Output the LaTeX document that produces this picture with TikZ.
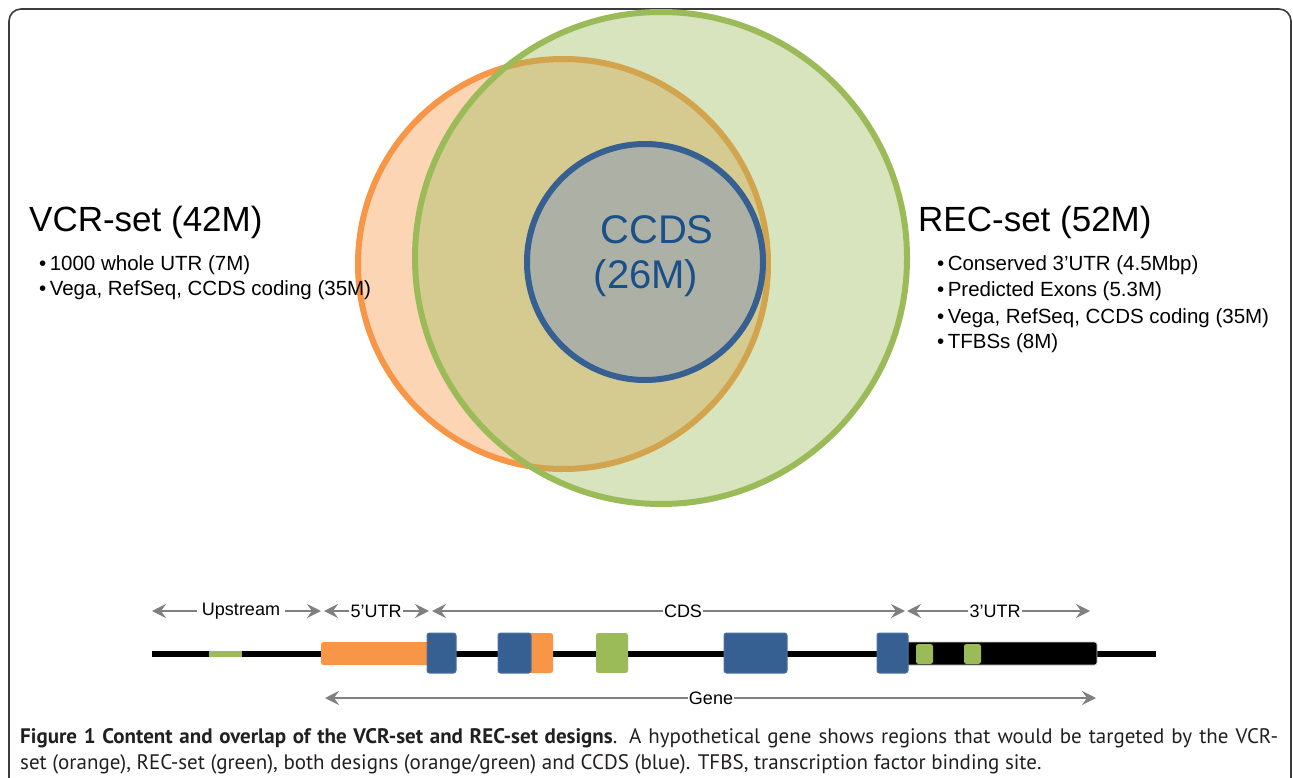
\documentclass[tikz,border=0pt]{standalone}
\usepackage{fontspec}
\setmainfont{Liberation Sans}
\newfontfamily\capfont{PT Sans}
\usetikzlibrary{arrows.meta}
\definecolor{vorange}{RGB}{247,150,70}
\definecolor{vpeach}{RGB}{252,213,181}
\definecolor{vgreen}{RGB}{155,187,89}
\definecolor{vblue}{RGB}{55,96,146}
\definecolor{vblueedge}{RGB}{75,112,158}
\definecolor{vgrey}{RGB}{173,176,165}
\definecolor{ccdstext}{RGB}{26,80,138}
\definecolor{arrowgrey}{RGB}{128,128,128}
\definecolor{framegrey}{RGB}{60,60,60}
\definecolor{captext}{RGB}{35,31,32}
\tikzset{
  setlabel/.style={font=\fontsize{35}{42}\selectfont, anchor=west, inner sep=0pt},
  bulletitem/.style={font=\fontsize{20.5}{24}\selectfont, anchor=west, inner sep=0pt},
  ccdslabel/.style={font=\fontsize{40}{48}\selectfont, text=ccdstext, inner sep=0pt},
  tracklabel/.style={font=\fontsize{18}{21}\selectfont, inner sep=3pt},
  garrow/.style={arrowgrey, line width=2pt, -{Stealth[length=14pt, width=14pt, inset=5pt]}},
  exonblue/.style={fill=vblue, draw=vblueedge, line width=1pt, rounded corners=2.5pt},
  exonorange/.style={fill=vorange, rounded corners=2.5pt},
  exongreen/.style={fill=vgreen, rounded corners=2.5pt},
  captionline/.style={font=\capfont\fontsize{21}{25}\selectfont, text=captext, anchor=base west, inner sep=0pt}
}
\begin{document}
\begin{tikzpicture}[x=1pt,y=-1pt]
\useasboundingbox (0,0) rectangle (1293,778);
\clip (0,0) rectangle (1293,778);
% frame
\draw[framegrey, line width=1.6pt, rounded corners=12pt] (9,820) -- (9,9) -- (1291,9) -- (1291,820);

% Venn diagram
\draw[vorange, fill=vpeach, line width=6pt] (563,264) circle (205);
\fill[vgreen, fill opacity=0.4] (661,258) circle (246);
\draw[vgreen, line width=6pt] (661,258) circle (246);
\draw[vblue, fill=vgrey, line width=6pt] (645,262) circle (118);

\node[ccdslabel] (ccds) at (657,230) {CCDS};
\node[ccdslabel] (ccdsM) at (646,278) {(26M)};

% left text
\node[setlabel] (vcr) at (29,222) {VCR-set (42M)};
\node[bulletitem] (vcr1) at (39,265) {\textbullet\,1000 whole UTR (7M)};
\node[bulletitem] (vcr2) at (39,290) {\textbullet\,Vega, RefSeq, CCDS coding (35M)};

% right text
\node[setlabel] (rec) at (918,222) {REC-set (52M)};
\node[bulletitem] (rec1) at (937,265) {\textbullet\,Conserved 3'UTR (4.5Mbp)};
\node[bulletitem] (rec2) at (937,291) {\textbullet\,Predicted Exons (5.3M)};
\node[bulletitem] (rec3) at (937,318) {\textbullet\,Vega, RefSeq, CCDS coding (35M)};
\node[bulletitem] (rec4) at (937,343) {\textbullet\,TFBSs (8M)};

% gene track
\coordinate (trackL) at (152,654);
\coordinate (trackR) at (1156,654);
\draw[black, line width=6pt] (trackL) -- (trackR);
\fill[vgreen] (209,651) rectangle (242,657);
\fill[exonorange] (321,642) rectangle (432,665);
\draw[exonblue] (427,633) rectangle (456,673);
\fill[exonorange] (524,633) rectangle (553,673);
\draw[exonblue] (498,633) rectangle (531,673);
\fill[exongreen] (596,633) rectangle (628,673);
\draw[exonblue] (724,633) rectangle (787,673);
\draw[fill=black, draw=black!20, line width=0.8pt, rounded corners=2.5pt] (900,642) rectangle (1097,665);
\draw[exonblue] (877,633) rectangle (908,673);
\fill[exongreen] (916,644) rectangle (933,664);
\fill[exongreen] (964,644) rectangle (981,664);

% region arrows
\coordinate (upL) at (152,611);
\coordinate (upR) at (321,611);
\node[tracklabel, inner sep=5pt] (up) at (241,611) {Upstream};
\draw[garrow] (up.west) -- (upL);
\draw[garrow] (up.east) -- (upR);

\coordinate (utr5L) at (324,611);
\coordinate (utr5R) at (429,611);
\node[tracklabel, inner sep=1pt] (utr5) at (376,611) {5'UTR};
\draw[garrow] (utr5.west) -- (utr5L);
\draw[garrow] (utr5.east) -- (utr5R);

\coordinate (cdsL) at (432,611);
\coordinate (cdsR) at (905,611);
\node[tracklabel, inner sep=0.5pt] (cds) at (683,611) {CDS};
\draw[garrow] (cds.west) -- (cdsL);
\draw[garrow] (cds.east) -- (cdsR);

\coordinate (utr3L) at (907,611);
\coordinate (utr3R) at (1090,611);
\node[tracklabel, inner sep=1pt] (utr3) at (995,611) {3'UTR};
\draw[garrow] (utr3.west) -- (utr3L);
\draw[garrow] (utr3.east) -- (utr3R);

\coordinate (geneL) at (325,698);
\coordinate (geneR) at (1096,698);
\node[tracklabel, inner sep=0.5pt] (gene) at (711,698) {Gene};
\draw[garrow] (gene.west) -- (geneL);
\draw[garrow] (gene.east) -- (geneR);

% caption
\node[captionline] (cap1) at (20,743) {\makebox[1258pt][s]{\textbf{Figure 1 Content and overlap of the VCR-set and REC-set designs}. A hypothetical gene shows regions that would be targeted by the VCR-}};
\node[captionline] (cap2) at (20,769) {set (orange), REC-set (green), both designs (orange/green) and CCDS (blue). TFBS, transcription factor binding site.};
\end{tikzpicture}
\end{document}
